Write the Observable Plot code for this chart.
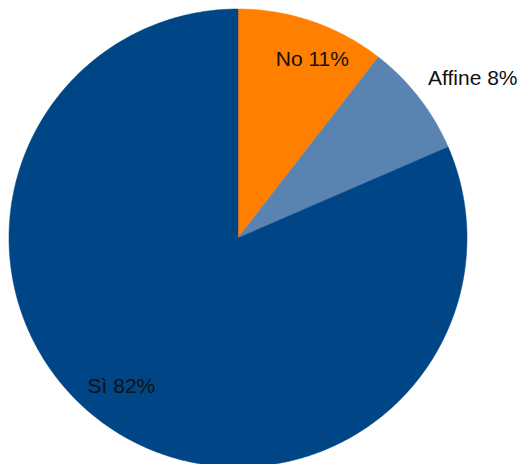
<!DOCTYPE html>
<html>
<head>
<meta charset="utf-8">
<script src="https://cdn.jsdelivr.net/npm/d3@7"></script>
<script src="https://cdn.jsdelivr.net/npm/@observablehq/plot@0.6"></script>
<style>
  html, body { margin: 0; padding: 0; background: #fff; }
  #chart svg { display: block; }
</style>
</head>
<body>
<div id="chart"></div>
<script>
// Data
const categories = ["No", "Affine", "Sì"];
const values = [10.5, 8.0, 81.5];
const colors = ["#ff8000", "#5983b0", "#004586"];

// Label placement (style config, not data)
const labelRadius = [0.84, 1.05, 0.80];
const labelDx = [12, 0, -16];
const labelDy = [3, -12, -5];
const labelAnchor = ["middle", "start", "middle"];

const total = d3.sum(values);
let cum = 0;
const slices = categories.map((c, i) => {
  const a0 = cum / total * 2 * Math.PI;
  cum += values[i];
  const a1 = cum / total * 2 * Math.PI;
  return {category: c, value: values[i], a0, a1, mid: (a0 + a1) / 2, i};
});

// Polygon outlines for each slice (unit circle, angle clockwise from north)
const polyPoints = [];
for (const s of slices) {
  const n = Math.max(2, Math.ceil((s.a1 - s.a0) / (Math.PI / 360)));
  polyPoints.push({category: s.category, x: 0, y: 0});
  for (let k = 0; k <= n; k++) {
    const a = s.a0 + (s.a1 - s.a0) * k / n;
    polyPoints.push({category: s.category, x: Math.sin(a), y: Math.cos(a)});
  }
  polyPoints.push({category: s.category, x: 0, y: 0});
}

const labels = slices.map(s => ({
  text: `${s.category} ${Math.round(s.value)}%`,
  x: labelRadius[s.i] * Math.sin(s.mid),
  y: labelRadius[s.i] * Math.cos(s.mid),
  i: s.i
}));

const cx = 237.5, cy = 237.5, R = 229;

const chart = Plot.plot({
  width: 525,
  height: 464,
  margin: 0,
  style: {background: "#fff", fontFamily: "'Liberation Sans', Arial, sans-serif"},
  x: {domain: [-1, 1], range: [cx - R, cx + R], axis: null},
  y: {domain: [-1, 1], range: [cy + R, cy - R], axis: null},
  color: {domain: categories, range: colors},
  marks: [
    Plot.line(polyPoints, {x: "x", y: "y", z: "category", fill: "category", stroke: "category", strokeWidth: 0.5, curve: "linear"}),
    ...labels.map(l => Plot.text([l], {
      x: "x", y: "y", text: "text",
      dx: labelDx[l.i], dy: labelDy[l.i],
      textAnchor: labelAnchor[l.i],
      fontSize: 21,
      fill: "#111"
    }))
  ]
});

document.getElementById("chart").appendChild(chart);
</script>
</body>
</html>
